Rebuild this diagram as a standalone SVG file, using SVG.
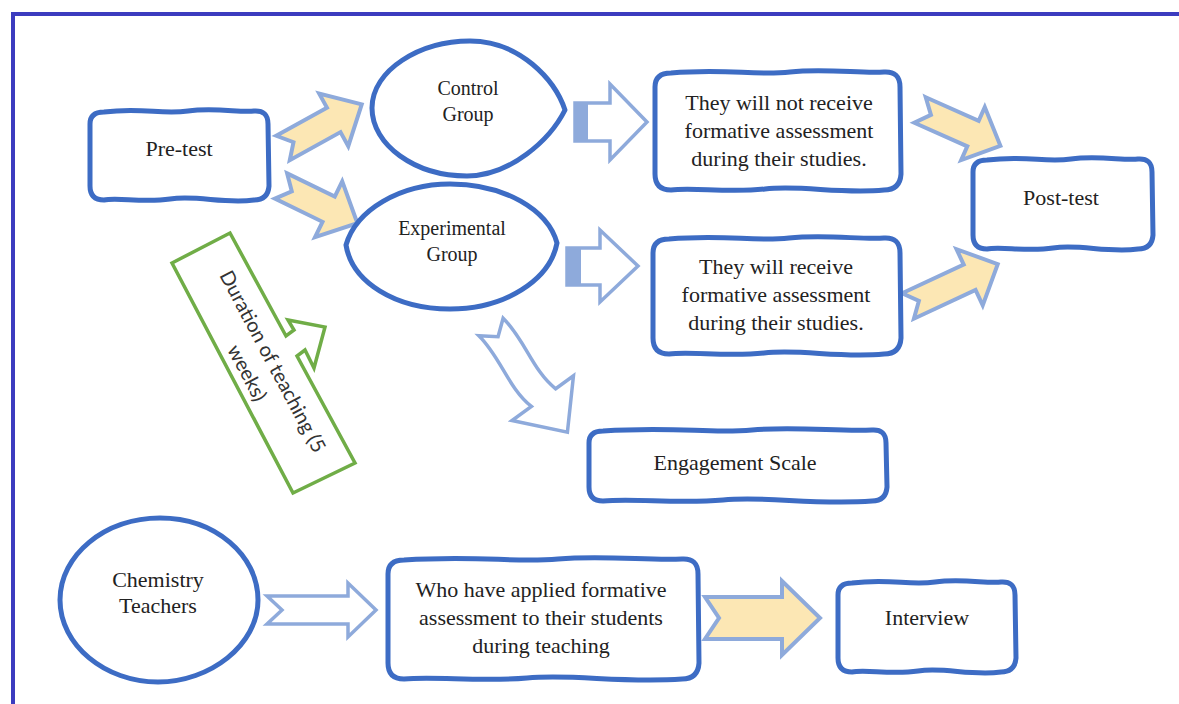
<svg xmlns="http://www.w3.org/2000/svg" width="1179" height="704" viewBox="0 0 1179 704">
<style>
.node{fill:#ffffff;stroke:#3d6cc4;stroke-width:5;stroke-linejoin:round}
.t{font-family:"Liberation Serif","Times New Roman",serif;font-size:22px;fill:#222;text-anchor:middle}
.ts{font-family:"Liberation Serif","Times New Roman",serif;font-size:20px;fill:#222;text-anchor:middle}
.ya{fill:#fce7b4;stroke:#8eaadb;stroke-width:4;stroke-linejoin:miter}
.ha{fill:#ffffff;stroke:#8eaadb;stroke-width:3.5;stroke-linejoin:miter}
.bar{fill:#8eaadb}
.green{fill:#ffffff;stroke:#70ad47;stroke-width:3.5}
.gt{font-family:Lato,"Open Sans",sans-serif;font-size:20px;fill:#333;text-anchor:middle}
</style>
<rect width="1179" height="704" fill="#ffffff"/>
<rect id="frame" x="13" y="14" width="1190" height="740" fill="none" stroke="#3c3cbf" stroke-width="4"/>

<g id="connectors">
  <path class="ya" transform="translate(283,148) rotate(-29)" d="M0,-14 L58,-14 L58,-30 L90,0 L58,30 L58,14 L0,14 L12,0 Z"/>
  <path class="ya" transform="translate(281,186) rotate(26)" d="M0,-14 L53,-14 L53,-31 L85,0 L53,31 L53,14 L0,14 L12,0 Z"/>
  <path class="ha" d="M575,103 L610,103 L610,84 L647,122 L610,160 L610,141 L575,141 Z"/>
  <rect class="bar" x="575" y="103" width="13" height="38"/>
  <path class="ha" d="M567,248 L600,248 L600,230 L638,266 L600,302 L600,285 L567,285 Z"/>
  <rect class="bar" x="567" y="248" width="14" height="37"/>
  <path class="ya" transform="translate(920,110) rotate(24)" d="M0,-14 L58,-14 L58,-29 L88,0 L58,29 L58,14 L0,14 L12,0 Z"/>
  <path class="ya" transform="translate(908,306) rotate(-25)" d="M0,-14 L68,-14 L68,-31 L99,0 L68,31 L68,14 L0,14 L12,0 Z"/>
  <path class="ha" transform="translate(491,327) rotate(54)" d="M0,-15 C30,-20 60,-8 88,-16 L88,-38 L130,0 L88,38 L88,14 C60,22 30,10 0,15 L12,0 Z"/>
  <path class="ha" transform="translate(267,610)" d="M0,-14 L81,-14 L81,-27 L109,0 L81,27 L81,14 L0,14 L15,0 Z"/>
  <path class="ya" transform="translate(705,618)" d="M0,-21 L77,-21 L77,-37 L115,0 L77,37 L77,21 L0,21 L14,0 Z"/>
</g>

<g id="duration">
  <path class="green" d="M172,263 L230,233 L286,336 L294,330 L288,320 L325,327 L314,368 L305,350 L297,356 L355,463 L293,493 Z"/>
  <g transform="translate(272,362) rotate(62)">
    <text class="gt" x="0" y="6">Duration of teaching (5</text>
    <text class="gt" x="-2" y="34">weeks)</text>
  </g>
</g>

<g id="pretest">
  <path class="node" d="M104,112 C143,107 161,115 188,111 C215,107 241,113 254,111 Q268,110 268,124 L269,186 Q268,200 254,200 C224,204 197,195 170,199 C143,203 117,197 104,200 Q90,200 90,186 L90,124 Q90,112 104,112 Z"/>
  <text class="t" x="179" y="156">Pre-test</text>
</g>

<g id="control">
  <path class="node" d="M372,108 C372,70 420,41 470,41 C520,41 555,80 565,110 C550,140 510,176 467,176 C415,176 372,145 372,108 Z"/>
  <text class="ts" x="468" y="95">Control</text>
  <text class="ts" x="468" y="121">Group</text>
</g>

<g id="experimental">
  <path class="node" d="M346,245 C356,210 400,184 450,184 C505,184 548,210 557,243 C550,280 505,309 450,309 C395,309 352,282 346,245 Z"/>
  <text class="ts" x="452" y="235">Experimental</text>
  <text class="ts" x="452" y="261">Group</text>
</g>

<g id="noreceive">
  <path class="node" d="M671,73 C728,68 753,76 790,72 C826,68 863,74 884,72 Q900,71 900,87 L901,174 Q900,190 884,190 C839,194 802,185 765,189 C728,193 692,187 671,190 Q655,190 655,174 L655,87 Q655,73 671,73 Z"/>
  <text class="t" x="779" y="110">They will not receive</text>
  <text class="t" x="779" y="138">formative assessment</text>
  <text class="t" x="779" y="166">during their studies.</text>
</g>

<g id="receive">
  <path class="node" d="M669,239 C727,234 752,242 789,238 C826,234 863,240 884,238 Q900,237 900,253 L901,338 Q900,354 884,354 C838,358 801,349 764,353 C727,357 690,351 669,354 Q653,354 653,338 L653,253 Q653,239 669,239 Z"/>
  <text class="t" x="776" y="274">They will receive</text>
  <text class="t" x="776" y="302">formative assessment</text>
  <text class="t" x="776" y="330">during their studies.</text>
</g>

<g id="posttest">
  <path class="node" d="M987,160 C1027,155 1045,163 1071,159 C1098,155 1125,161 1138,159 Q1152,158 1152,172 L1153,235 Q1152,249 1138,249 C1107,253 1080,244 1053,248 C1027,252 1000,246 987,249 Q973,249 973,235 L973,172 Q973,160 987,160 Z"/>
  <text class="t" x="1061" y="205">Post-test</text>
</g>

<g id="engagement">
  <path class="node" d="M603,431 C678,426 708,434 752,430 C797,426 841,432 872,430 Q886,429 886,443 L887,487 Q886,501 872,501 C812,505 767,496 723,500 C678,504 634,498 603,501 Q589,501 589,487 L589,443 Q589,431 603,431 Z"/>
  <text class="t" x="735" y="470">Engagement Scale</text>
</g>

<g id="chemistry">
  <path class="node" d="M60,600 C60,555 105,518 160,518 C215,518 258,555 258,600 C258,645 210,682 158,682 C105,682 60,645 60,600 Z"/>
  <text class="t" x="158" y="587">Chemistry</text>
  <text class="t" x="158" y="613">Teachers</text>
</g>

<g id="applied">
  <path class="node" d="M404,560 C481,555 512,563 558,559 C605,555 651,561 682,559 Q698,558 698,574 L699,663 Q698,679 682,679 C620,683 574,674 527,678 C481,682 434,676 404,679 Q388,679 388,663 L388,574 Q388,560 404,560 Z"/>
  <text class="t" x="541" y="597">Who have applied formative</text>
  <text class="t" x="541" y="625">assessment to their students</text>
  <text class="t" x="541" y="653">during teaching</text>
</g>

<g id="interview">
  <path class="node" d="M852,583 C891,578 909,586 935,582 C962,578 988,584 1001,582 Q1015,581 1015,595 L1016,658 Q1015,672 1001,672 C971,676 944,667 918,671 C891,675 865,669 852,672 Q838,672 838,658 L838,595 Q838,583 852,583 Z"/>
  <text class="t" x="927" y="625">Interview</text>
</g>
</svg>
